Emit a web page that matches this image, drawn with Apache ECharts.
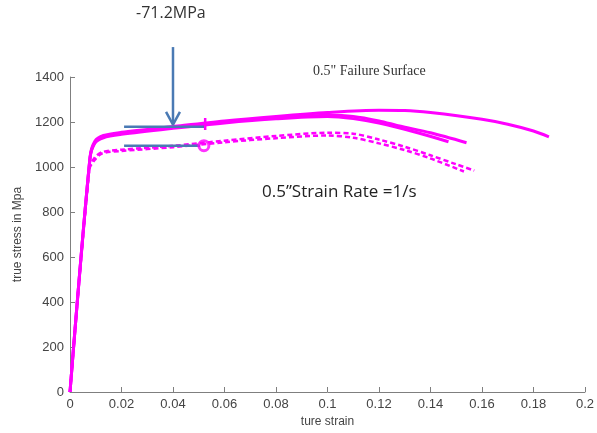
<!DOCTYPE html>
<html>
<head>
    <meta charset="UTF-8">
    <title>True stress vs strain</title>
    <script src="https://cdn.jsdelivr.net/npm/echarts@6/dist/echarts.min.js"></script>
    <style>
        html, body { margin: 0; padding: 0; background: #fff; }
        #main { width: 597px; height: 433px; }
    </style>
</head>
<body>
<div id="main"></div>
<script type="text/javascript">
    // x axis ticks / y axis ticks
    var xTicks = [0, 0.02, 0.04, 0.06, 0.08, 0.1, 0.12, 0.14, 0.16, 0.18, 0.2];
    var yTicks = [0, 200, 400, 600, 800, 1000, 1200, 1400];

    // solid curves [strain, stress]
    var solidA = [[0, 0], [0.0078, 1045], [0.0097, 1115], [0.013, 1140], [0.02, 1154], [0.04, 1180], [0.06, 1205],
        [0.08, 1225], [0.1, 1242], [0.12, 1252], [0.13, 1251], [0.14, 1242], [0.16, 1212], [0.17, 1190],
        [0.18, 1160], [0.186, 1134]];
    var solidB = [[0, 0], [0.0078, 1040], [0.0097, 1110], [0.013, 1135], [0.02, 1150], [0.04, 1176], [0.06, 1200],
        [0.08, 1218], [0.1, 1230], [0.11, 1225], [0.12, 1205], [0.128, 1182], [0.14, 1152], [0.154, 1108]];
    var solidC = [[0, 0], [0.0077, 1035], [0.0096, 1105], [0.013, 1130], [0.02, 1145], [0.04, 1172], [0.06, 1196],
        [0.08, 1214], [0.1, 1224], [0.11, 1215], [0.12, 1195], [0.135, 1152], [0.147, 1112]];

    // dashed curves
    var dashD = [[0, 0], [0.0075, 995], [0.0095, 1040], [0.0124, 1066], [0.02, 1077], [0.04, 1094], [0.06, 1117],
        [0.08, 1138], [0.1, 1152], [0.11, 1148], [0.12, 1122], [0.13, 1090], [0.14, 1052], [0.15, 1012], [0.157, 984]];
    var dashE = [[0, 0], [0.0075, 990], [0.0095, 1030], [0.0124, 1060], [0.02, 1071], [0.04, 1088], [0.06, 1110],
        [0.08, 1128], [0.1, 1140], [0.11, 1130], [0.12, 1105], [0.13, 1075], [0.14, 1038], [0.153, 980]];

    // annotations
    var upperLine = [[0.021, 1179], [0.0525, 1179]];
    var lowerLine = [[0.021, 1095], [0.0505, 1095]];
    var arrowShaft = [[0.04, 1533], [0.04, 1190]];
    var arrowHead = [[0.0373, 1245], [0.04, 1188], [0.0427, 1245]];
    var endTick = [[0.0525, 1165], [0.0525, 1218]];
    var circlePt = [[0.052, 1095]];

    var magenta = '#ff00ff';
    var blue = '#4a7ab4';

    function curve(data, dashed) {
        return {
            type: 'line',
            data: data,
            symbol: 'none',
            smooth: 0.3,
            lineStyle: {color: magenta, width: dashed ? 2.5 : 3, type: dashed ? [5, 3] : 'solid'},
            z: 2
        };
    }

    function blueLine(data) {
        return {
            type: 'line',
            data: data,
            symbol: 'none',
            clip: false,
            lineStyle: {color: blue, width: 2.5},
            z: 5
        };
    }

    var myChart = echarts.init(document.getElementById('main'));
    var option = {
        backgroundColor: '#fff',
        animation: false,
        grid: {left: 70, right: 12, top: 77, bottom: 40},
        xAxis: {
            type: 'value',
            min: 0, max: 0.2, interval: 0.02,
            name: 'ture strain',
            nameLocation: 'middle',
            nameGap: 24,
            nameTextStyle: {fontFamily: 'Liberation Sans', fontSize: 12, color: '#444'},
            axisLine: {lineStyle: {color: '#7f7f7f', width: 1}},
            axisTick: {inside: true, length: 5, lineStyle: {color: '#7f7f7f'}},
            axisLabel: {
                fontFamily: 'Liberation Sans', fontSize: 13, color: '#444', margin: 6,
                formatter: function (v) { return String(+v.toFixed(2)); }
            },
            splitLine: {show: false}
        },
        yAxis: {
            type: 'value',
            min: 0, max: 1400, interval: 200,
            name: 'true stress in Mpa',
            nameLocation: 'middle',
            nameGap: 44,
            nameTextStyle: {fontFamily: 'Liberation Sans', fontSize: 12, color: '#444'},
            axisLine: {show: true, lineStyle: {color: '#7f7f7f', width: 1}},
            axisTick: {show: true, inside: true, length: 5, lineStyle: {color: '#7f7f7f'}},
            axisLabel: {
                fontFamily: 'Liberation Sans', fontSize: 13, color: '#444', margin: 6,
                formatter: function (v) { return String(v); }
            },
            splitLine: {show: false}
        },
        graphic: [
            {
                type: 'text', left: 136, top: 5,
                style: {text: '-71.2MPa', fontFamily: 'Open Sans', fontSize: 16, fill: '#333'}
            },
            {
                type: 'text', left: 313, top: 64,
                style: {text: '0.5" Failure Surface', fontFamily: 'Liberation Serif', fontSize: 14, fill: '#333'}
            },
            {
                type: 'text', left: 262, top: 184,
                style: {text: '0.5\u201dStrain Rate =1/s', fontFamily: 'Open Sans', fontSize: 17, fill: '#222'}
            }
        ],
        series: [
            curve(solidA, false),
            curve(solidB, false),
            curve(solidC, false),
            curve(dashD, true),
            curve(dashE, true),
            blueLine(upperLine),
            blueLine(lowerLine),
            blueLine(arrowShaft),
            blueLine(arrowHead),
            {
                type: 'line', data: endTick, symbol: 'none',
                lineStyle: {color: magenta, width: 2.5}, z: 6
            },
            {
                type: 'scatter', data: circlePt, symbol: 'circle', symbolSize: 10,
                itemStyle: {color: 'rgba(255,255,255,0)', borderColor: magenta, borderWidth: 3}, z: 7
            }
        ]
    };
    myChart.setOption(option);
</script>
</body>
</html>
